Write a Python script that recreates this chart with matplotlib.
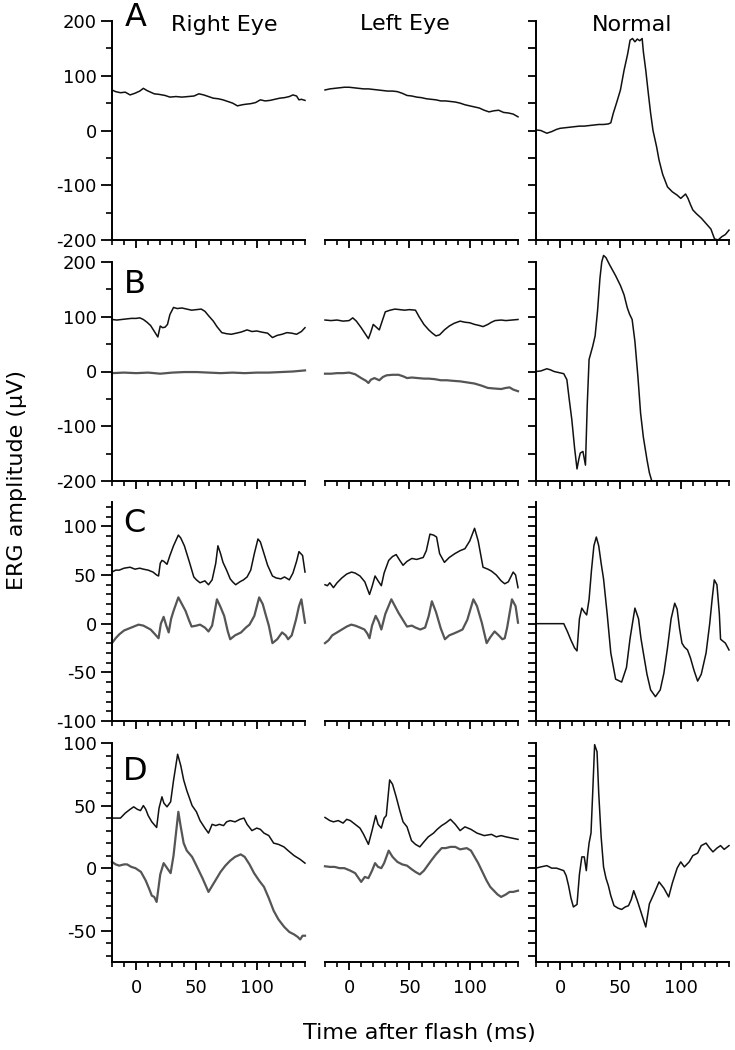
import matplotlib
matplotlib.use('Agg')
import matplotlib.pyplot as plt
from matplotlib.ticker import MultipleLocator

plt.rcParams['font.family'] = ['DejaVu Sans']
plt.rcParams['axes.unicode_minus'] = False

# ---- data: ERG traces (time in ms, amplitude in uV) ----
# panel A
a_right_t = [-20,-17,-13,-9,-5,-1,3,6,9,12,15,19,24,28,33,38,43,48,52,56,60,64,68,72,76,80,84,88,91,95,99,103,107,111,115,119,123,127,130,133,135,137,140]
a_right_v = [74,71,69,70,65,68,72,77,73,70,67,66,64,61,62,61,62,63,67,65,62,59,58,56,53,50,45,47,48,49,51,56,54,55,57,59,60,62,65,63,56,57,55]
a_left_t = [-20,-16,-12,-8,-4,0,4,8,12,16,20,24,28,32,36,40,44,48,52,56,60,64,68,72,76,80,84,88,92,96,100,104,108,112,116,120,124,128,132,136,140]
a_left_v = [74,76,77,78,79,79,78,77,76,76,75,74,73,72,72,71,68,64,63,61,60,58,57,56,54,54,53,52,50,47,45,43,41,37,34,36,37,33,32,30,25]
a_norm_t = [-20,-16,-11,-7,-3,0,4,8,12,16,20,24,28,32,36,40,42,44,47,50,53,56,58,60,62,64,66,68,69,71,73,75,77,80,82,85,89,93,97,100,102,104,106,108,110,113,117,121,125,128,131,134,137,140]
a_norm_v = [1,0,-5,-2,2,4,5,6,7,8,8,9,10,11,11,12,14,31,52,74,110,140,165,168,162,167,164,168,144,110,70,32,0,-30,-54,-80,-103,-112,-118,-124,-120,-116,-124,-135,-145,-152,-160,-170,-180,-198,-200,-194,-190,-182]

# panel B
b_right_t = [-20,-16,-12,-8,-4,0,3,6,9,12,14,16,18,20,22,24,26,28,31,34,38,42,46,50,54,57,60,64,67,71,75,79,83,87,92,96,100,104,109,113,117,121,125,129,133,137,140]
b_right_v = [95,94,95,96,97,97,98,95,90,84,77,70,63,83,80,81,86,104,117,115,116,114,112,113,114,110,102,92,82,71,69,68,70,72,76,73,74,72,70,62,66,68,71,70,68,73,80]
b_right2_t = [-20,-10,0,10,20,30,40,50,60,70,80,90,100,110,120,130,140]
b_right2_v = [-3,-2,-3,-2,-4,-2,-1,-1,-2,-3,-2,-3,-2,-2,-1,0,2]
b_left_t = [-20,-15,-10,-5,0,3,6,10,13,16,18,20,22,25,28,30,34,38,42,46,50,55,58,62,66,69,72,75,79,83,87,92,96,100,104,108,111,115,118,121,126,130,135,140]
b_left_v = [94,93,94,92,93,98,92,80,70,60,72,86,82,76,96,109,112,114,113,112,113,112,100,86,76,70,65,67,76,83,88,92,90,89,86,84,82,86,90,93,94,93,94,95]
b_left2_t = [-20,-15,-10,-5,0,5,10,14,16,18,21,25,28,31,36,41,45,48,52,57,62,66,71,76,81,86,92,98,104,110,115,120,126,130,133,136,140]
b_left2_v = [-4,-4,-3,-3,-2,-5,-12,-17,-21,-15,-12,-16,-10,-7,-6,-6,-9,-12,-11,-12,-13,-13,-14,-16,-16,-17,-18,-20,-22,-26,-30,-31,-32,-30,-29,-33,-36]
b_norm_t = [-20,-16,-11,-8,-5,-1,3,5.6,7.5,9.7,12,14,15.5,16.7,18.9,21,22.5,24,25.5,27,29,31,33,34.5,36,38,41,43,46,50,53,55.6,57.5,59.7,62,64.5,66.7,69,72,74,76]
b_norm_v = [0,1,5,3,0,-2,-4,-15,-50,-88,-140,-178,-160,-149,-146,-171,-60,22,34,46,65,110,170,200,212,208,195,187,175,157,140,117,105,95,55,-10,-76,-120,-161,-185,-200]

# panel C
c_right_t = [-20,-17,-14,-10,-5,-1,3,6,10,14,17,18.6,20,21.4,23,25.6,28,31,35,37,40,44,47.8,50,53,57,60,63,66,67.8,70,72,75,78,80,82.5,86,89,92,95,98,101,103,106,109,113,116,120,123,127,130,133,135,138,140]
c_right_v = [53,55,55,57,58,56,57,56,55,53,50,49,62,65,64,61,70,80,91,88,80,64,48,45,42,44,40,45,62,80,72,63,55,46,43,40,43,45,48,55,72,87,84,72,60,49,47,46,48,45,52,64,74,70,53]
c_right2_t = [-20,-17,-14,-10,-6,-2,2,6,9,12,15,18.6,20.5,22.8,25,27,29,31,35,38,41,44,46,50,53,57,60,63,67,70,73,76,78,82,87,91,94,98,102,105,107,110,113,117,121,124,126,129,132.5,135,137,140]
c_right2_v = [-20,-15,-11,-7,-5,-3,-1,-2,-4,-6,-10,-15,0,7,-2,-9,5,13,27,20,13,3,-3,-2,-1,-4,-8,-2,25,17,8,-8,-16,-12,-9,-4,-1,8,27,20,11,-2,-20,-16,-9,-12,-16,-12,4,18,25,1]
c_left_t = [-20,-18,-16,-13,-10,-6,-2,2,5,9,13,16.9,19,21.5,24,26.7,29,32.8,36,39,42,44.7,48,52,56,61.4,64,67,70,72.5,75,79,83,87.7,92,96,100,104,107,111,115,118,122,126,129,132,136,138,140]
c_left_v = [40,39,42,37,42,47,51,53,52,49,43,30,38,49,44,39,52,65,69,71,65,60,64,67,66,68,75,92,91,89,72,63,68,72,75,77,85,98,85,58,56,54,50,44,41,43,53,50,37]
c_left2_t = [-20,-17,-14,-10,-6,-2,1.7,5,9,12.7,15,16.9,19,22,24.5,26.7,30,35,38,41,44,48,52,55,59,63,66,68.6,72,76,79.4,83,87,90.6,94,98,103,106,110,114,117,120.6,124,127,129,131,135,138,140]
c_left2_v = [-20,-17,-12,-9,-6,-3,-1,-2,-4,-6,-10,-15,-2,8,2,-6,10,25,18,11,5,-3,-2,-4,-6,-4,8,23,12,-5,-16,-12,-10,-8,-6,4,25,18,1,-20,-14,-8,-12,-16,-15,-4,25,18,1]
c_norm_t = [-20,-10,0,3,6,9,12,14,16,18,20,22,24,26,28,30,32,34,36,39,42,46,51,55,58,62,65,67,69,72,75,79,83,86,89,92,95,97,99,101,103,105.6,108,111,114,117,121,124,126,127.8,130,132,133,135,137,140]
c_norm_v = [0,0,0,0,-8,-17,-25,-28,5,16,12,9,25,55,80,89,80,62,46,10,-30,-57,-60,-45,-15,16,5,-15,-30,-52,-68,-75,-68,-51,-25,5,21,15,-5,-20,-24,-27,-35,-48,-59,-52,-30,0,25,45,40,10,-16,-18,-20,-27]

# panel D
d_right_t = [-20,-16,-13,-9,-5,-2,1,3.6,6,8,10,13,17,19,21.4,23,25.6,28.6,31,34.4,37,39.4,42,46.4,50,53,57,60,63,66,69,72.5,75,78,82,86,89.4,92,96,100,103,106,110,114,118,122.5,126,131,136,140]
d_right_v = [40,40,40,44,47,49,47,46,50,47,42,37,32.5,48,57,52,49,53,70,91,82,70.5,62,50,45,38,32,28,35,34,35,34,37,38,37,39,40,35,30,32,31,28,26,20,19,17,14,10,7,4]
d_right2_t = [-20,-17,-14,-10,-7.5,-4,-0.6,4,8,11,13,15,17,20,22.8,25,28.6,31,35,37,39.4,42,46.4,50,55,60,65,70,74,78,82,86.7,90,94,97.8,102,106,110,114,118,122.8,127,131,134,136,138,140]
d_right2_v = [5,3,2,3,3,1,0,-3,-10,-17,-22,-23,-27,-5,4,1,-4,10,45,33,20,14,9,2,-8,-19,-11,-3,2,6,9,11,9,3,-4,-10,-15,-24,-34,-41,-47,-51,-53,-55,-57,-54,-54]
d_left_t = [-20,-16,-13,-9,-5,-2,1,5,9,12,16,19,22,24,26.7,29,30.8,33.6,36,39,42,44.7,48,51.7,55,58.6,62,65.6,70,73,76.7,80,84,88,92,96,101,106,112,118,122,126,130,135,140]
d_left_v = [40.5,38,37,38,36,39,38,35,32,27,19,30,42,35,32,40,42,70.5,67,57,46,37,33,22,19,17,21,25,28,31,34,36,39,35,30,33,31,28,26,27,25,26,25,24,23]
d_left2_t = [-20,-16,-12,-8,-4,1,5,10,13,16,19,21.5,24,26.7,29,32.8,36,40,44,48,52,55,58.6,62,65,68,72,76.7,80,84,88,92,97.5,101,104,107,110,114,117,120,123,126,130,133,136,140]
d_left2_v = [1.5,1,1,0,0,-2,-4,-11,-7,-8,-2,4,1,0,4,14,9,5,3,2,-1,-3,-5,-2,2,6,11,16,16,17,17,15,16,14,9,4,-2,-10,-15,-18,-21,-23,-21,-19,-19,-18]
d_norm_t = [-20,-16,-11,-7,-3,0,3,5,7,9,11,14,16,18,20,21.7,22.8,24,25.6,27,28.6,30.6,32,34,36,38,40,42,44.7,48,51,54,56.7,59,61,64,67,71,74,78,82,86,90,93,97,100,103,107,110,114,117,121,124,126.7,130,133,136,140]
d_norm_v = [0,1,2,0,0,-1,-2,-6,-14,-24,-31,-29,-5,9,9,-2,10,20,28,60,98.7,93,60,25,1,-8,-14,-22,-30,-32,-33,-31,-30,-25,-18,-26,-35,-47,-28.5,-20,-11,-16,-23,-12,0,5,1,5,10,12,18,20,16,13,16,18,15,18]

panel_letters = ['A', 'B', 'C', 'D']
col_titles = ['Right Eye', 'Left Eye', 'Normal']
ylims = [(-200, 200), (-200, 200), (-100, 125), (-75, 100)]
y_major = [100, 100, 50, 50]
y_minor = [50, 50, 10, 10]

# traces per row: [right eye, left eye, normal]; each a list of (t, v, grey?)
traces = [
    [[(a_right_t, a_right_v, False)], [(a_left_t, a_left_v, False)], [(a_norm_t, a_norm_v, False)]],
    [[(b_right_t, b_right_v, False), (b_right2_t, b_right2_v, True)],
     [(b_left_t, b_left_v, False), (b_left2_t, b_left2_v, True)],
     [(b_norm_t, b_norm_v, False)]],
    [[(c_right_t, c_right_v, False), (c_right2_t, c_right2_v, True)],
     [(c_left_t, c_left_v, False), (c_left2_t, c_left2_v, True)],
     [(c_norm_t, c_norm_v, False)]],
    [[(d_right_t, d_right_v, False), (d_right2_t, d_right2_v, True)],
     [(d_left_t, d_left_v, False), (d_left2_t, d_left2_v, True)],
     [(d_norm_t, d_norm_v, False)]],
]

W, H = 735, 1050
fig = plt.figure(figsize=(W / 100, H / 100), dpi=100)

col_x = [112, 325, 536]
col_w = 193
row_bottom = [240, 481, 721, 962]
row_h = 219

for r in range(4):
    for c in range(3):
        ax = fig.add_axes([col_x[c] / W, 1 - row_bottom[r] / H, col_w / W, row_h / H])
        for t, v, grey in traces[r][c]:
            if grey:
                ax.plot(t, v, color='#555555', lw=1.6, clip_on=False)
            else:
                ax.plot(t, v, color='#111111', lw=1.1, clip_on=False)
        ax.set_xlim(-20, 140)
        ax.set_ylim(*ylims[r])
        ax.patch.set_visible(False)
        for s in ['top', 'right']:
            ax.spines[s].set_visible(False)
        ax.spines['bottom'].set_linewidth(1.4)
        ax.spines['left'].set_linewidth(1.4)
        ax.xaxis.set_major_locator(MultipleLocator(50))
        ax.xaxis.set_minor_locator(MultipleLocator(10))
        ax.tick_params(axis='x', which='major', direction='out', length=6, width=1.3,
                       labelsize=13, pad=6, labelbottom=(r == 3))
        ax.tick_params(axis='x', which='minor', direction='out', length=3.5, width=1.2)
        if c == 1:
            ax.spines['left'].set_visible(False)
            ax.set_yticks([])
        else:
            ax.yaxis.set_major_locator(MultipleLocator(y_major[r]))
            ax.yaxis.set_minor_locator(MultipleLocator(y_minor[r]))
            if c == 0:
                ax.tick_params(axis='y', which='major', direction='out', length=8, width=1.3,
                               labelsize=13, pad=3)
                ax.tick_params(axis='y', which='minor', direction='out', length=4, width=1.2)
            else:
                ax.tick_params(axis='y', which='both', direction='out', length=6, width=1.3,
                               labelleft=False)

# panel letters and column headings
letter_pos = [(136, 18), (135, 284), (134, 523), (135, 772)]
for letter, (px, py) in zip(panel_letters, letter_pos):
    fig.text(px / W, 1 - py / H, letter, fontsize=23, ha='center', va='center')

title_pos = [(224, 25), (405, 24), (632, 25)]
for title, (px, py) in zip(col_titles, title_pos):
    fig.text(px / W, 1 - py / H, title, fontsize=16, ha='center', va='center')

fig.text(17 / W, 1 - 480 / H, 'ERG amplitude (\u00b5V)', fontsize=16, rotation=90,
         ha='center', va='center')
fig.text(419 / W, 1 - 1033 / H, 'Time after flash (ms)', fontsize=16,
         ha='center', va='center')

fig.savefig('out.png', dpi=100)
